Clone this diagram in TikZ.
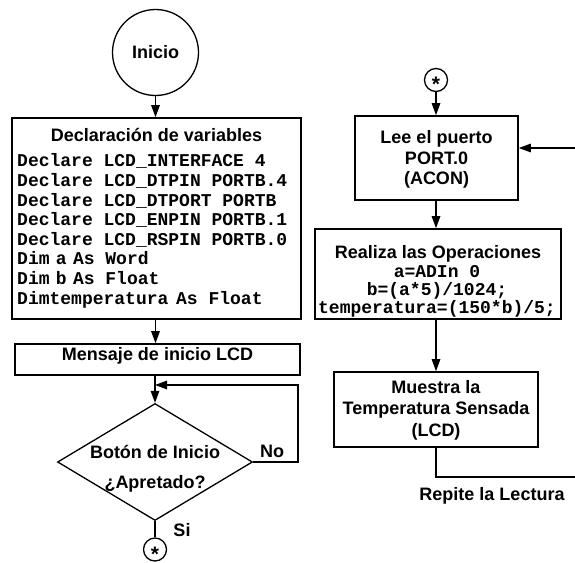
\documentclass[tikz,border=0pt]{standalone}
\usepackage{fontspec}
\setmainfont{Liberation Sans}
\setmonofont{Liberation Mono}
\usetikzlibrary{arrows.meta,shapes.geometric}
\newcommand{\sansf}{\fontsize{18}{21}\selectfont\bfseries}
\newcommand{\monof}{\fontsize{18}{20}\selectfont\ttfamily\bfseries}
\newcommand{\astk}{\smash{\raisebox{-0.55em}{*}}}
\begin{document}
\begin{tikzpicture}[x=1pt,y=-1pt,
  >={Triangle[length=12pt,width=8.5pt]},
  frame/.style={draw,rectangle,inner sep=0pt,line width=1.6pt},
  circ/.style={draw,circle,inner sep=0pt,line width=1.3pt},
  starc/.style={circ,minimum size=23pt,font=\fontsize{21}{21}\selectfont\bfseries},
  lbl/.style={inner sep=0pt,anchor=base,font=\sansf},
  codel/.style={inner sep=0pt,anchor=base west,font=\monof},
  codec/.style={inner sep=0pt,anchor=base,font=\monof},
  conn/.style={draw,line width=1.4pt},
]
\useasboundingbox (0,0) rectangle (575,562);

% ---------- left column ----------
\node[circ, minimum size=86pt, font=\sansf] (inicio) at (155.5,52.5) {Inicio};

\node[frame, minimum width=289pt, minimum height=201pt] (decl) at (156.5,218.5) {};
\node[lbl] (decltitle) at (156.5,141.5) {Declaración de variables};
\foreach \t [count=\i] in {Declare LCD\_INTERFACE 4,
  Declare LCD\_DTPIN PORTB.4,
  Declare LCD\_DTPORT PORTB,
  Declare LCD\_ENPIN PORTB.1,
  Declare LCD\_RSPIN PORTB.0,
  Dim\hspace{-4.5pt} a\hspace{-4.5pt} As Word,
  Dim\hspace{-4.5pt} b\hspace{-4.5pt} As Float,
  Dimtemperatura\hspace{-3pt} As Float}
  \node[codel] (code\i) at (17,{166.8+(\i-1)*19.6}) {\t};

\node[frame, minimum width=285pt, minimum height=31pt] (msg) at (157.5,359.5) {};
\node[lbl] (msgtxt) at (157.5,360) {Mensaje de inicio LCD};

\node[draw, diamond, minimum width=195pt, minimum height=117pt, inner sep=0pt, line width=1.3pt] (dec) at (155,462) {};
\node[lbl] (dect1) at (155,458.5) {Botón de Inicio};
\node[lbl] (dect2) at (155,488.5) {¿Apretado?};

\node[starc] (s1) at (155,549.5) {\astk};

\node[lbl] (no) at (272,457) {No};
\node[lbl] (si) at (182,536.5) {Si};

\draw[conn,->] (inicio.south) -- (inicio.south |- decl.north);
\draw[conn,->] (decl.south -| inicio.center) -- (msg.north -| inicio.center);
\draw[conn,->] (msg.south -| dec.north) -- (dec.north);
\coordinate (loopr) at (298,385);
\draw[conn,->] (dec.east) -| (loopr) -- (loopr -| dec.north);
\draw[conn] (dec.south) -- (s1.north);

% ---------- right column ----------
\node[starc] (s2) at (436,80) {\astk};

\node[frame, minimum width=163pt, minimum height=84pt] (lee) at (436.5,158) {};
\node[lbl] (lee1) at (436.5,143.5) {Lee el puerto};
\node[lbl] (lee2) at (436.5,164.5) {PORT.0};
\node[lbl] (lee3) at (436.5,184.5) {(ACON)};

\node[frame, minimum width=246pt, minimum height=90pt] (real) at (438,274) {};
\node[lbl] (real0) at (438,258.5) {Realiza las Operaciones};
\node[codec] (real1) at (437,277.8) {a=ADIn 0};
\node[codec] (real2) at (437,295.8) {b=(a*5)/1024;};
\node[codec] (real3) at (437,313.8) {temperatura=(150*b)/5;};

\node[frame, minimum width=204pt, minimum height=75pt] (mue) at (436,409.5) {};
\node[lbl] (mue1) at (436,393.5) {Muestra la};
\node[lbl] (mue2) at (436,414.5) {Temperatura Sensada};
\node[lbl] (mue3) at (436,436.5) {(LCD)};

\node[lbl] (rep) at (492,500.5) {Repite la Lectura};

\coordinate (rin) at (575,148);
\coordinate (rout) at (575,477);
\draw[conn,->] (s2.south) -- (s2.south |- lee.north);
\draw[conn,->] (rin) -- (rin -| lee.east);
\draw[conn,->] (lee.south -| s2.center) -- (real.north -| s2.center);
\draw[conn,->] (real.south -| s2.center) -- (mue.north -| s2.center);
\draw[conn] (mue.south -| s2.center) |- (rout);
\end{tikzpicture}
\end{document}
